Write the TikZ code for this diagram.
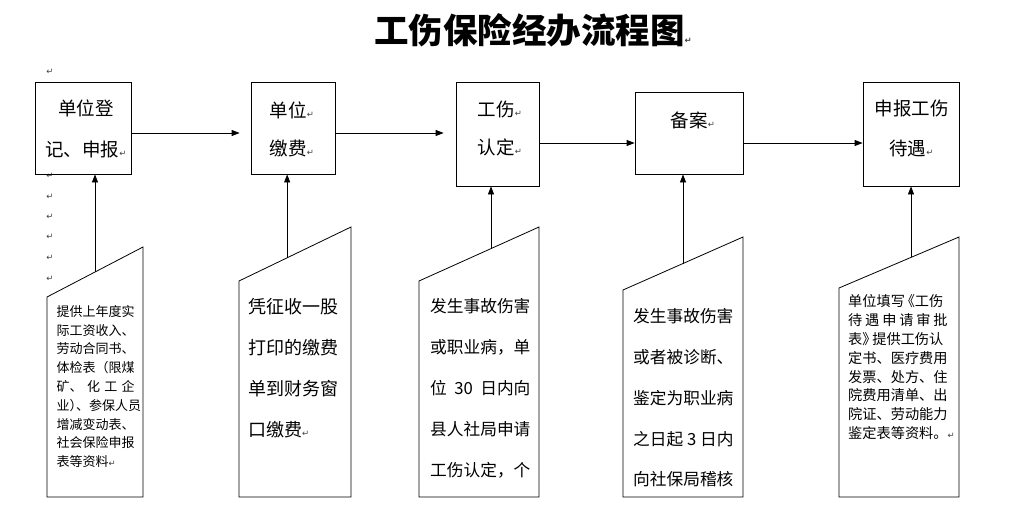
\documentclass[tikz,border=0pt]{standalone}
\usepackage{fontspec}
\setmainfont{Noto Sans CJK SC}
\newfontfamily\retfont{DejaVu Sans}
\usetikzlibrary{positioning, calc, arrows.meta}
\newcommand{\retmark}{{\retfont\fontsize{8.5}{8.5}\selectfont\textcolor{black!75}{↵}}}
\tikzset{
    stepbox/.style={draw, line width=0.8pt, inner sep=0pt},
    boxtext/.style={align=center, inner sep=0pt, font=\fontsize{18.5}{41}\selectfont},
    notetext/.style={align=left, anchor=north west, inner sep=0pt},
    noteshape/.style={draw, line width=0.8pt},
    flowarrow/.style={-{Triangle[length=8pt,width=6pt]}, line width=0.8pt}
}

\begin{document}
\begin{tikzpicture}[x=1pt, y=-1pt]
            \useasboundingbox (0,0) rectangle (1016,516);
            % Title
            \node (title) at (533,30) {\fontsize{34.5}{34.5}\selectfont\bfseries 工伤保险经办流程图\retmark};

            % Return marks down the left margin
            \foreach \y [count=\i] in {72,176,197,217,237,258,279}
                \node[inner sep=0pt] (mark\i) at (50,\y) {\retmark};

            % Process steps
            \node[stepbox, minimum width=96pt, minimum height=92pt] (dengji) at (83.5,128) {};
            \node[stepbox, minimum width=84pt, minimum height=92pt] (jiaofei) at (293,128) {};
            \node[stepbox, minimum width=83pt, minimum height=104pt] (rending) at (497.5,134) {};
            \node[stepbox, minimum width=108pt, minimum height=82pt] (beian) at (689,133) {};
            \node[stepbox, minimum width=96pt, minimum height=104pt] (daiyu) at (911,134) {};

            \node[boxtext] (dengji-t) at (86,128.5) {单位登\\记、申报\retmark};
            \node[boxtext, font=\fontsize{18.5}{38}\selectfont] (jiaofei-t) at (292,129) {单位\retmark\\缴费\retmark};
            \node[boxtext, font=\fontsize{18.5}{38}\selectfont] (rending-t) at (500,129) {工伤\retmark\\认定\retmark};
            \node[boxtext] (beian-t) at (693,120) {备案\retmark};
            \node[boxtext, font=\fontsize{18.5}{40}\selectfont] (daiyu-t) at (911.5,128) {申报工伤\\待遇\retmark};

            % Arrows between steps
            \coordinate (h1) at ([yshift=-5pt]dengji.east);
            \coordinate (h2) at ([yshift=-5pt]jiaofei.east);
            \coordinate (h3) at ([yshift=-9pt]rending.east);
            \coordinate (h4) at ([yshift=-10pt]beian.east);
            \draw[flowarrow, shorten >=11pt] (h1) -- (h1 -| jiaofei.west);
            \draw[flowarrow, shorten >=12pt] (h2) -- (h2 -| rending.west);
            \draw[flowarrow] (h3) -- (h3 -| beian.west);
            \draw[flowarrow] (h4) -- (h4 -| daiyu.west);

            % Notes under the steps
            \draw[noteshape] (47,497) -- (47,297) coordinate (n1a) -- (143,247) coordinate (n1b) -- (143,497) -- cycle;
            \draw[noteshape] (239,497) -- (239,281) coordinate (n2a) -- (351,227) coordinate (n2b) -- (351,497) -- cycle;
            \draw[noteshape] (419,497) -- (419,281) coordinate (n3a) -- (539,227) coordinate (n3b) -- (539,497) -- cycle;
            \draw[noteshape] (623,497) -- (623,290) coordinate (n4a) -- (743,237) coordinate (n4b) -- (743,497) -- cycle;
            \draw[noteshape] (839,497) -- (839,288) coordinate (n5a) -- (959,237) coordinate (n5b) -- (959,497) -- cycle;

            \node[notetext, font=\fontsize{13}{18.8}\selectfont] (dengji-n) at (56.5,305) {提供上年度实\\际工资收入、\\劳动合同书、\\体检表（限煤\\\makebox[78pt][s]{矿、\hfill 化\hfill 工\hfill 企}\\业）\kern-0.5em 、参保人员\\增减变动表、\\社会保险申报\\表等资料\retmark};
            \node[notetext, font=\fontsize{18}{41.3}\selectfont] (jiaofei-n) at (248,297.7) {凭征收一股\\打印的缴费\\单到财务窗\\口缴费\retmark};
            \node[notetext, font=\fontsize{16.7}{41}\selectfont] (rending-n) at (430,298.3) {发生事故伤害\\或职业病，单\\\makebox[100.2pt][s]{位 30 日内向}\\县人社局申请\\工伤认定，个};
            \node[notetext, font=\fontsize{16.7}{40.8}\selectfont] (beian-n) at (633,308.3) {发生事故伤害\\或者被诊断、\\鉴定为职业病\\之日起 3 日内\\向社保局稽核};
            \node[notetext, font=\fontsize{14.2}{18.8}\selectfont] (daiyu-n) at (848,294.6) {单位填写\kern-0.3em《工伤\\\makebox[99.4pt][s]{待\hfill 遇\hfill 申\hfill 请\hfill 审\hfill 批}\\表》\kern-0.3em 提供工伤认\\定书、医疗费用\\发票、处方、住\\院费用清单、出\\院证、劳动能力\\鉴定表等资料。\retmark};

            % Arrows from notes up to steps
            \coordinate (s1) at ($(n1a)!0.5!(n1b)$);
            \coordinate (s2) at ($(n2a)!0.43!(n2b)$);
            \coordinate (s3) at ($(n3a)!0.6!(n3b)$);
            \coordinate (s4) at ($(n4a)!0.5!(n4b)$);
            \coordinate (s5) at ($(n5a)!0.6!(n5b)$);
            \draw[flowarrow] (s1) -- (s1 |- dengji.south);
            \draw[flowarrow] (s2) -- (s2 |- jiaofei.south);
            \draw[flowarrow] (s3) -- (s3 |- rending.south);
            \draw[flowarrow] (s4) -- (s4 |- beian.south);
            \draw[flowarrow] (s5) -- (s5 |- daiyu.south);
        \end{tikzpicture}
\end{document}
